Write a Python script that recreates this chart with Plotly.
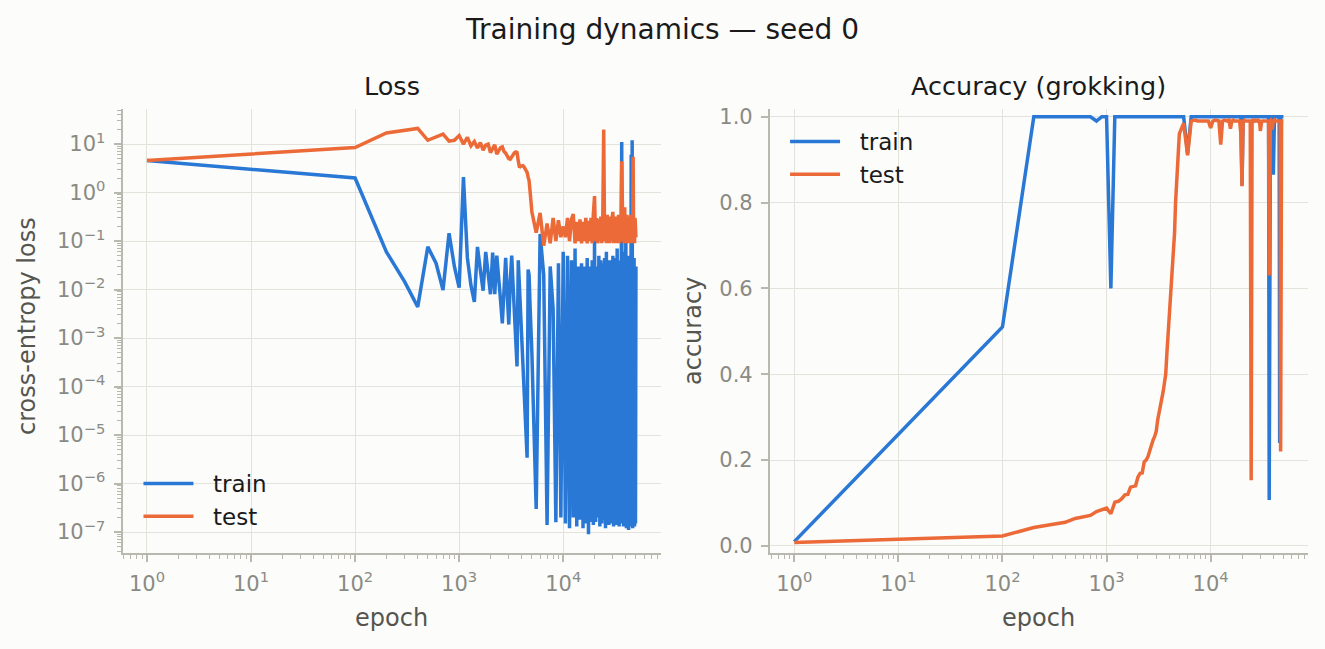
import plotly.graph_objects as go

BLUE = "#2a78d6"
ORANGE = "#ec6a37"
BG = "#fcfcfa"
GRID = "#e3e3db"
SPINE = "#b8b8ae"
TICK_TXT = "#8a8a84"
LABEL_TXT = "#55554f"

W, H = 1325, 649

# epochs where metrics were logged
epochs = [
    1, 100, 200, 300, 400, 500, 600, 700, 800, 900, 1000,
    1100, 1200, 1300, 1400, 1500, 1600, 1700, 1800, 1900, 2000,
    2100, 2200, 2300, 2400, 2500, 2600, 2700, 2800, 2900, 3000,
    3100, 3200, 3300, 3400, 3500, 3600, 3700, 3800, 3900, 4000,
    4100, 4200, 4300, 4400, 4500, 4600, 4700, 4800, 4900, 5000,
    5500, 6000, 6500, 7000, 7500, 8000, 8500, 9000, 9500, 10000,
    10500, 11000, 11500, 12000, 12500, 13000, 13500, 14000, 14500, 15000,
    15500, 16000, 16500, 17000, 17500, 18000, 18500, 19000, 19500, 20000,
    20500, 21000, 21500, 22000, 22500, 23000, 23500, 24000, 24500, 25000,
    25500, 26000, 26500, 27000, 27500, 28000, 28500, 29000, 29500, 30000,
    30500, 31000, 31500, 32000, 32500, 33000, 33500, 34000, 34500, 35000,
    35500, 36000, 36500, 37000, 37500, 38000, 38500, 39000, 39500, 40000,
    40500, 41000, 41500, 42000, 42500, 43000, 43500, 44000, 44500, 45000,
    45500, 46000, 46500, 47000, 47500, 48000, 48500, 49000, 49500, 50000,
]

train_loss = [
    4.6, 2.0, 0.06, 0.0144, 0.0044, 0.076, 0.035, 0.0098, 0.145, 0.03, 0.011,
    2.1, 0.045, 0.012, 0.0056, 0.076, 0.025, 0.0095, 0.06, 0.02, 0.008,
    0.058, 0.008, 0.05, 0.02, 0.006, 0.002, 0.012, 0.045, 0.008, 0.0019,
    0.015, 0.05, 0.012, 0.003, 0.0008, 0.00026, 0.04, 0.012, 0.0036, 0.0012,
    3.5e-4, 1.3e-4, 4e-5, 1.5e-5, 3.4e-6, 0.026, 0.02, 0.0048, 0.0015, 0.0005,
    3e-7, 0.14, 0.02, 1.4e-7, 0.03, 0.004, 1.6e-7, 0.035, 2e-7, 0.06,
    1.5e-7, 0.05, 1.2e-7, 0.04, 2e-7, 0.07, 1.3e-7, 0.03, 1.8e-7, 0.035,
    1.2e-7, 0.03, 1.5e-7, 0.045, 9e-8, 0.03, 1.6e-7, 0.04, 1.4e-7, 0.1,
    1.6e-7, 0.03, 2e-7, 0.05, 1.3e-7, 0.04, 1.5e-7, 0.035, 1.8e-7, 0.045,
    1.2e-7, 0.06, 1.6e-7, 0.035, 1.4e-7, 0.04, 1.8e-7, 0.03, 1.5e-7, 0.05,
    1.3e-7, 0.035, 1.7e-7, 0.045, 1.4e-7, 0.07, 1.6e-7, 0.04, 1.3e-7, 0.035,
    1.9e-7, 0.05, 11.0, 1.5e-7, 0.04, 1.3e-7, 0.06, 1.7e-7, 0.035, 0.15,
    1.2e-7, 0.04, 1.6e-7, 0.05, 1.1e-7, 0.04, 1.5e-7, 0.05, 1.3e-7, 6.0,
    1.4e-7, 12.0, 1.2e-7, 0.04, 1.6e-7, 0.045, 1.3e-7, 0.03, 1.5e-7, 0.03,
]

test_loss = [
    4.6, 8.5, 17.0, 19.0, 21.0, 12.0, 14.0, 16.0, 11.5, 12.0, 15.0,
    10.0, 13.7, 9.2, 11.3, 8.3, 10.8, 7.5, 9.5, 10.0, 6.7,
    8.0, 9.7, 6.2, 7.5, 8.5, 8.8, 7.0, 6.5, 5.5, 5.0,
    4.9, 5.5, 6.3, 6.6, 6.9, 6.7, 4.5, 3.3, 3.5, 3.6,
    3.6, 3.4, 3.1, 2.9, 2.6, 2.1, 1.77, 1.1, 0.69, 0.4,
    0.15, 0.38, 0.08, 0.23, 0.09, 0.3, 0.1, 0.27, 0.12, 0.2,
    0.12, 0.3, 0.1, 0.28, 0.36, 0.09, 0.25, 0.1, 0.28, 0.09,
    0.25, 0.1, 0.3, 0.09, 0.26, 0.1, 0.3, 0.09, 0.37, 0.85,
    0.1, 0.3, 0.09, 0.28, 0.1, 0.32, 0.09, 0.3, 20.0, 0.1,
    0.3, 0.09, 0.35, 0.1, 0.3, 0.09, 0.32, 0.1, 0.3, 0.4,
    0.09, 0.3, 0.1, 0.32, 0.09, 0.3, 0.1, 0.35, 0.09, 0.3,
    0.1, 0.3, 4.4, 0.38, 0.1, 0.3, 0.09, 0.5, 0.1, 0.3,
    0.09, 0.35, 0.1, 0.3, 0.09, 0.32, 0.1, 0.3, 0.09, 0.35,
    0.1, 0.3, 0.09, 5.5, 0.1, 0.3, 0.09, 0.3, 0.2, 0.12,
]

train_acc = [
    0.01, 0.51, 1.0, 1.0, 1.0, 1.0, 1.0, 1.0, 0.99, 1.0, 1.0,
    0.60, 1.0, 1.0, 1.0, 1.0, 1.0, 1.0, 1.0, 1.0, 1.0,
    1.0, 1.0, 1.0, 1.0, 1.0, 1.0, 1.0, 1.0, 1.0, 1.0,
    1.0, 1.0, 1.0, 1.0, 1.0, 1.0, 1.0, 1.0, 1.0, 1.0,
    1.0, 1.0, 1.0, 1.0, 1.0, 1.0, 1.0, 1.0, 1.0, 1.0,
    1.0, 0.915, 1.0, 1.0, 1.0, 1.0, 1.0, 1.0, 1.0, 1.0,
    1.0, 1.0, 1.0, 1.0, 1.0, 1.0, 1.0, 1.0, 1.0, 1.0,
    1.0, 1.0, 1.0, 1.0, 1.0, 1.0, 1.0, 1.0, 1.0, 0.84,
    1.0, 1.0, 1.0, 1.0, 1.0, 1.0, 1.0, 1.0, 1.0, 1.0,
    1.0, 1.0, 1.0, 1.0, 1.0, 1.0, 1.0, 1.0, 1.0, 1.0,
    1.0, 1.0, 1.0, 1.0, 1.0, 1.0, 1.0, 1.0, 1.0, 1.0,
    1.0, 1.0, 0.107, 1.0, 1.0, 1.0, 1.0, 1.0, 1.0, 0.865,
    1.0, 1.0, 1.0, 1.0, 1.0, 1.0, 1.0, 1.0, 1.0, 1.0,
    1.0, 0.24, 1.0, 1.0, 1.0, 1.0, 1.0, 1.0, 1.0, 1.0,
]

test_acc = [
    0.008, 0.023, 0.043, 0.049, 0.055, 0.064, 0.067, 0.071, 0.08, 0.084, 0.088,
    0.075, 0.102, 0.104, 0.11, 0.119, 0.12, 0.137, 0.139, 0.14, 0.16,
    0.169, 0.17, 0.196, 0.2, 0.208, 0.222, 0.239, 0.247, 0.255, 0.267,
    0.294, 0.31, 0.33, 0.341, 0.36, 0.38, 0.40, 0.45, 0.49, 0.535,
    0.57, 0.61, 0.65, 0.70, 0.73, 0.80, 0.85, 0.885, 0.93, 0.96,
    0.985, 0.91, 0.99, 0.992, 0.99, 0.99, 0.992, 0.99, 0.99, 0.974,
    0.99, 0.992, 0.99, 0.99, 0.935, 0.99, 0.992, 0.99, 0.99, 0.992,
    0.972, 0.99, 0.992, 0.99, 0.99, 0.992, 0.99, 0.99, 0.96, 0.838,
    0.99, 0.992, 0.99, 0.99, 0.992, 0.99, 0.99, 0.99, 0.153, 0.99,
    0.992, 0.99, 0.99, 0.992, 0.99, 0.99, 0.992, 0.99, 0.99, 0.967,
    0.99, 0.992, 0.99, 0.99, 0.992, 0.99, 0.99, 0.992, 0.99, 0.99,
    0.992, 0.99, 0.63, 0.99, 0.99, 0.992, 0.99, 0.97, 0.99, 0.99,
    0.99, 0.992, 0.99, 0.99, 0.992, 0.99, 0.99, 0.992, 0.99, 0.99,
    0.992, 0.99, 0.99, 0.22, 0.99, 0.992, 0.99, 0.99, 0.992, 0.99,
]

for s in (train_loss, test_loss, train_acc, test_acc):
    assert len(s) == len(epochs)

# tick labels
epoch_ticks = [1, 10, 100, 1000, 10000]
epoch_labels = ["10<sup>0</sup>", "10<sup>1</sup>", "10<sup>2</sup>",
                "10<sup>3</sup>", "10<sup>4</sup>"]
loss_ticks = [1e1, 1e0, 1e-1, 1e-2, 1e-3, 1e-4, 1e-5, 1e-6, 1e-7]
loss_labels = ["10<sup>1</sup>", "10<sup>0</sup>", "10<sup>\u22121</sup>",
               "10<sup>\u22122</sup>", "10<sup>\u22123</sup>", "10<sup>\u22124</sup>",
               "10<sup>\u22125</sup>", "10<sup>\u22126</sup>", "10<sup>\u22127</sup>"]
acc_ticks = [0.0, 0.2, 0.4, 0.6, 0.8, 1.0]
acc_labels = ["0.0", "0.2", "0.4", "0.6", "0.8", "1.0"]

# minor ticks for the log axes (2..9 in each decade)
epoch_minor = [m * 10 ** k for k in range(-1, 5) for m in range(2, 10)
               if 0.58 < m * 10 ** k < 86000]
loss_minor = [m * 10.0 ** k for k in range(-8, 2) for m in range(2, 10)
              if 3.7e-8 < m * 10.0 ** k < 53]

FONT = "DejaVu Sans"

# plot areas in pixels (left, right, top, bottom)
loss_box = (122.5, 660.5, 109.0, 553.0)
acc_box = (769.8, 1308.0, 109.0, 553.0)


def xdom(box):
    return [box[0] / W, box[1] / W]


def ydom(box):
    return [1 - box[3] / H, 1 - box[2] / H]


fig = go.Figure()

LW = 3.5
NB = "\u00a0\u00a0"  # small gap between legend line and label
fig.add_trace(go.Scatter(x=epochs, y=train_loss, mode="lines", name=NB + "train",
                         line=dict(color=BLUE, width=LW), legend="legend",
                         xaxis="x", yaxis="y"))
fig.add_trace(go.Scatter(x=epochs, y=test_loss, mode="lines", name=NB + "test",
                         line=dict(color=ORANGE, width=LW), legend="legend",
                         xaxis="x", yaxis="y"))
fig.add_trace(go.Scatter(x=epochs, y=train_acc, mode="lines", name=NB + "train",
                         line=dict(color=BLUE, width=LW), legend="legend2",
                         xaxis="x2", yaxis="y2"))
fig.add_trace(go.Scatter(x=epochs, y=test_acc, mode="lines", name=NB + "test",
                         line=dict(color=ORANGE, width=LW), legend="legend2",
                         xaxis="x2", yaxis="y2"))

axis_common = dict(
    showline=True, linecolor=SPINE, linewidth=1.8, mirror=False,
    showgrid=True, gridcolor=GRID, gridwidth=1.2, zeroline=False,
    ticks="outside", ticklen=7, tickwidth=1.5, tickcolor=SPINE,
    ticklabelstandoff=4,
    tickfont=dict(family=FONT, size=21, color=TICK_TXT),
    automargin=False,
)
minor_common = dict(ticks="outside", ticklen=4, tickwidth=1.1,
                    tickcolor=SPINE, showgrid=False, tickmode="array")

fig.update_layout(
    width=W, height=H,
    paper_bgcolor=BG, plot_bgcolor=BG,
    margin=dict(l=0, r=0, t=0, b=0),
    font=dict(family=FONT, color="#1a1a1a"),
    showlegend=True,
    title=dict(text="Training dynamics \u2014 seed 0", x=0.5, xanchor="center",
               y=1 - 29 / H, yanchor="middle",
               font=dict(family=FONT, size=28, color="#1a1a1a")),
    xaxis=dict(axis_common, type="log", domain=xdom(loss_box), anchor="y",
               range=[-0.235, 4.935], tickmode="array",
               tickvals=epoch_ticks, ticktext=epoch_labels,
               minor=dict(minor_common, tickvals=epoch_minor)),
    yaxis=dict(axis_common, type="log", domain=ydom(loss_box), anchor="x",
               range=[-7.433, 1.724], tickmode="array",
               tickvals=loss_ticks, ticktext=loss_labels,
               minor=dict(minor_common, tickvals=loss_minor)),
    xaxis2=dict(axis_common, type="log", domain=xdom(acc_box), anchor="y2",
                range=[-0.235, 4.935], tickmode="array",
                tickvals=epoch_ticks, ticktext=epoch_labels,
                minor=dict(minor_common, tickvals=epoch_minor)),
    yaxis2=dict(axis_common, domain=ydom(acc_box), anchor="x2",
                range=[-0.0165, 1.018], tickmode="array",
                tickvals=acc_ticks, ticktext=acc_labels),
    legend=dict(x=0.1045, y=1 - 462 / H, xanchor="left", yanchor="top",
                bgcolor="rgba(0,0,0,0)", itemwidth=50, tracegroupgap=0,
                font=dict(family=FONT, size=23, color="#1a1a1a")),
    legend2=dict(x=0.5925, y=1 - 120 / H, xanchor="left", yanchor="top",
                 bgcolor="rgba(0,0,0,0)", itemwidth=50, tracegroupgap=0,
                 font=dict(family=FONT, size=23, color="#1a1a1a")),
)

# subplot titles and axis labels
texts = [
    ("Loss", (loss_box[0] + loss_box[1]) / 2, 86, 25.5, "#1a1a1a", 0),
    ("Accuracy (grokking)", (acc_box[0] + acc_box[1]) / 2, 86, 25.5, "#1a1a1a", 0),
    ("epoch", (loss_box[0] + loss_box[1]) / 2, 618, 24, LABEL_TXT, 0),
    ("epoch", (acc_box[0] + acc_box[1]) / 2, 618, 24, LABEL_TXT, 0),
    ("cross-entropy loss", 27, 326, 24, LABEL_TXT, -90),
    ("accuracy", 693, 331, 24, LABEL_TXT, -90),
]
for txt, px, py, size, color, angle in texts:
    fig.add_annotation(text=txt, x=px / W, y=1 - py / H, xref="paper", yref="paper",
                       xanchor="center", yanchor="middle", showarrow=False,
                       textangle=angle,
                       font=dict(family=FONT, size=size, color=color))

fig.write_html("out.html", config={"displayModeBar": False},
               post_script="document.body.style.margin='0';")
